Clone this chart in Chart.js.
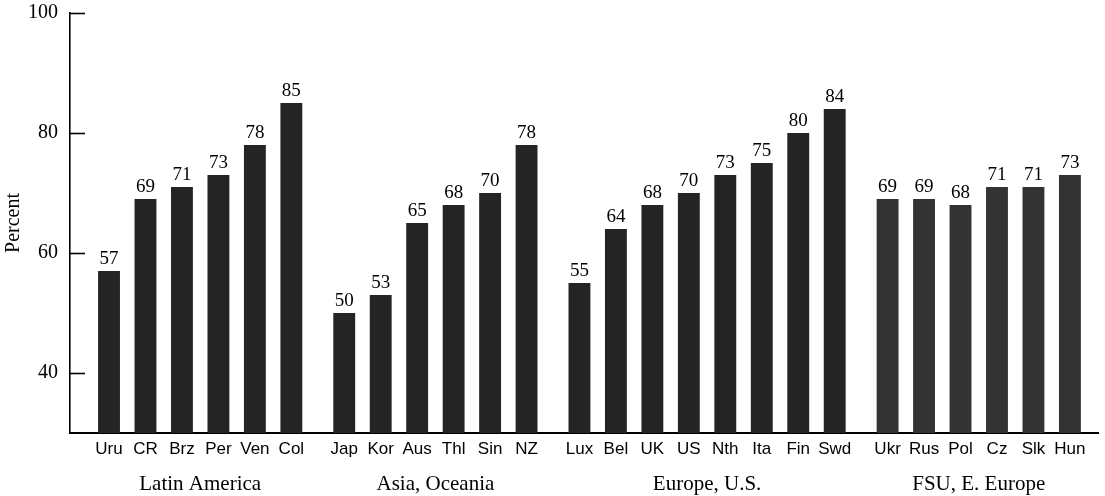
<!DOCTYPE html>
<html>
<head>
<meta charset="utf-8">
<script src="https://cdn.jsdelivr.net/npm/chart.js@4/dist/chart.umd.min.js"></script>
<style>
  html, body { margin: 0; padding: 0; background: #fff; }
  #wrap { width: 1105px; height: 496px; position: relative; }
</style>
</head>
<body>
<div id="wrap"><canvas id="c"></canvas></div>
<script>
// ---- data ----
const countries = ['Uru','CR','Brz','Per','Ven','Col',
                   'Jap','Kor','Aus','Thl','Sin','NZ',
                   'Lux','Bel','UK','US','Nth','Ita','Fin','Swd',
                   'Ukr','Rus','Pol','Cz','Slk','Hun'];
const values = [57,69,71,73,78,85,
                50,53,65,68,70,78,
                55,64,68,70,73,75,80,84,
                69,69,68,71,71,73];
const groups = ['Latin America','Asia, Oceania','Europe, U.S.','FSU, E. Europe'];
const groupSizes = [6,6,8,6];
const yTicks = [40,60,80,100];
const yTitle = 'Percent';

// ---- layout helpers (derived from data structure) ----
const GROUP_GAP = 0.45;
const groupOf = [];
groupSizes.forEach((n, g) => { for (let k = 0; k < n; k++) groupOf.push(g); });
const positions = countries.map((_, i) => i + groupOf[i] * GROUP_GAP);
const groupCenters = groups.map((_, g) => {
  const p = positions.filter((_, i) => groupOf[i] === g);
  return (p[0] + p[p.length - 1]) / 2;
});
const barColors = ['#242424', '#242424', '#242424', '#333333'];

const serif = '"Liberation Serif", "Times New Roman", serif';
const sans = '"Liberation Sans", Arial, sans-serif';

const innerTicks = {
  id: 'innerTicks',
  afterDraw(chart) {
    const ctx = chart.ctx, y = chart.scales.y, left = chart.chartArea.left;
    ctx.save();
    ctx.strokeStyle = '#000';
    ctx.lineWidth = 1.6;
    yTicks.forEach(v => {
      const py = Math.round(y.getPixelForValue(v)) + 0.5;
      ctx.beginPath();
      ctx.moveTo(left, py);
      ctx.lineTo(left + 15, py);
      ctx.stroke();
    });
    ctx.restore();
  }
};

const valueLabels = {
  id: 'valueLabels',
  afterDatasetsDraw(chart) {
    const ctx = chart.ctx;
    const meta = chart.getDatasetMeta(0);
    ctx.save();
    ctx.fillStyle = '#000';
    ctx.font = '19px ' + serif;
    ctx.textAlign = 'center';
    ctx.textBaseline = 'bottom';
    meta.data.forEach((bar, i) => {
      ctx.fillText(String(values[i]), bar.x, bar.y - 2);
    });
    ctx.restore();
  }
};

new Chart(document.getElementById('c'), {
  type: 'bar',
  data: {
    datasets: [{
      data: values.map((v, i) => ({ x: positions[i], y: v })),
      backgroundColor: ctx => barColors[groupOf[ctx.dataIndex]],
      borderWidth: 0,
      barPercentage: 0.6,
      categoryPercentage: 1.0
    }]
  },
  options: {
    responsive: true,
    maintainAspectRatio: false,
    animation: false,
    layout: { padding: { left: 0, right: 7, top: 13, bottom: 0 } },
    plugins: { legend: { display: false }, tooltip: { enabled: false } },
    scales: {
      x: {
        type: 'linear',
        position: 'bottom',
        offset: false,
        weight: 0,
        min: -1.07,
        max: 27.12,
        afterBuildTicks: s => { s.ticks = positions.map(v => ({ value: v })); },
        afterFit: s => { s.height = 28; s.paddingLeft = 0; s.paddingRight = 0; },
        ticks: {
          autoSkip: false,
          maxRotation: 0,
          minRotation: 0,
          padding: 6,
          color: '#000',
          font: { family: sans, size: 17 },
          callback: (val, idx) => countries[idx]
        },
        grid: { display: false, drawTicks: false, offset: false },
        border: { display: true, color: '#000', width: 2 }
      },
      g: {
        type: 'linear',
        position: 'bottom',
        offset: false,
        weight: 1,
        min: -1.07,
        max: 27.12,
        afterBuildTicks: s => { s.ticks = groupCenters.map(v => ({ value: v })); },
        afterFit: s => { s.height = 35; s.paddingLeft = 0; s.paddingRight = 0; },
        ticks: {
          autoSkip: false,
          maxRotation: 0,
          minRotation: 0,
          padding: 11,
          color: '#000',
          font: { family: serif, size: 21 },
          callback: (val, idx) => groups[idx]
        },
        grid: { display: false, drawTicks: false, offset: false },
        border: { display: false }
      },
      y: {
        type: 'linear',
        min: 30,
        max: 100,
        afterBuildTicks: s => { s.ticks = yTicks.map(v => ({ value: v })); },
        afterFit: s => { s.width = 70; s.paddingTop = 0; s.paddingBottom = 0; },
        ticks: {
          padding: 12,
          color: '#000',
          font: { family: serif, size: 20 }
        },
        grid: { display: false, drawTicks: false },
        border: { display: true, color: '#000', width: 1.6 },
        title: {
          display: true,
          text: yTitle,
          color: '#000',
          font: { family: serif, size: 20 },
          padding: { top: 2, bottom: 2 }
        }
      }
    }
  },
  plugins: [innerTicks, valueLabels]
});
</script>
</body>
</html>
